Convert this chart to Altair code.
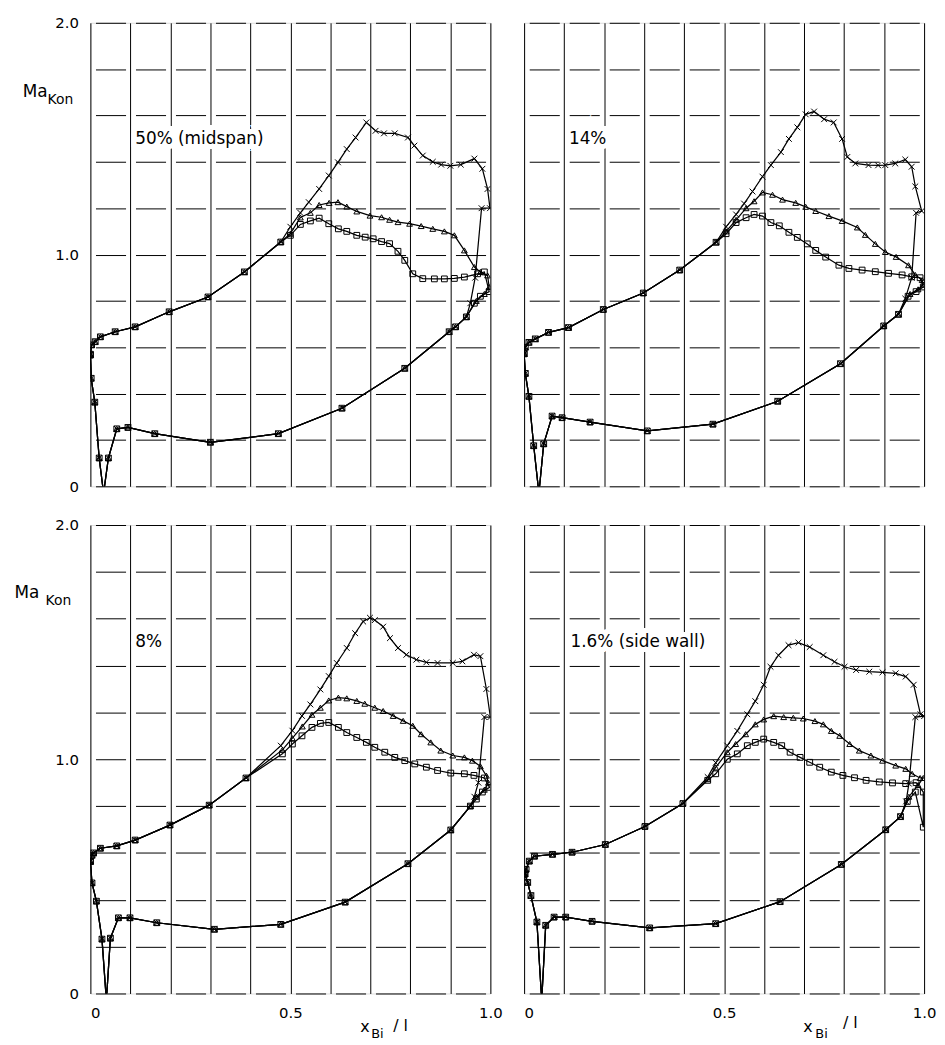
import altair as alt
import pandas as pd

FONT = "DejaVu Sans"
SERIES = ["x", "t", "s"]
SHAPES = ["M-1,-1L1,1M-1,1L1,-1", "triangle-up", "square"]

# ---------------- Panel A : 50 % (midspan) ----------------
A_LE = [(0.0, 0.57), (0.003, 0.61), (0.012, 0.624), (0.025, 0.645), (0.062, 0.667), (0.112, 0.688),
        (0.197, 0.753), (0.294, 0.817), (0.385, 0.925), (0.476, 1.054)]
A_X = [(0.50, 1.12), (0.525, 1.18), (0.546, 1.226), (0.572, 1.283), (0.596, 1.341), (0.619, 1.398),
       (0.641, 1.455), (0.663, 1.505), (0.69, 1.57), (0.713, 1.534), (0.734, 1.523), (0.761, 1.523),
       (0.794, 1.505), (0.81, 1.47), (0.831, 1.427), (0.856, 1.40), (0.877, 1.388), (0.90, 1.383),
       (0.926, 1.388), (0.96, 1.414), (0.98, 1.37), (0.993, 1.283), (0.999, 1.20)]
A_T = [(0.50, 1.09), (0.525, 1.16), (0.55, 1.18), (0.572, 1.214), (0.597, 1.223), (0.619, 1.226),
       (0.641, 1.207), (0.666, 1.186), (0.699, 1.168), (0.728, 1.161), (0.748, 1.15), (0.769, 1.14),
       (0.798, 1.133), (0.827, 1.123), (0.856, 1.111), (0.885, 1.10), (0.91, 1.083), (0.935, 1.018),
       (0.96, 0.946), (0.975, 0.925), (0.993, 0.91)]
A_S = [(0.50, 1.083), (0.525, 1.13), (0.55, 1.145), (0.572, 1.157), (0.596, 1.133), (0.62, 1.111),
       (0.641, 1.10), (0.666, 1.083), (0.687, 1.075), (0.707, 1.068), (0.728, 1.056), (0.748, 1.047),
       (0.769, 1.014), (0.786, 0.975), (0.806, 0.917), (0.831, 0.896), (0.86, 0.895), (0.885, 0.895),
       (0.91, 0.897), (0.935, 0.903), (0.968, 0.917), (0.985, 0.925)]
A_X_TE = [(0.978, 1.20), (0.962, 0.90), (0.95, 0.79)]
A_T_TE = [(0.997, 0.86), (0.985, 0.83), (0.965, 0.80)]
A_S_TE = [(0.997, 0.84), (0.975, 0.82), (0.96, 0.79)]
A_PS = [(0.94, 0.731), (0.913, 0.688), (0.897, 0.667), (0.786, 0.509), (0.629, 0.337), (0.47, 0.227),
        (0.30, 0.19), (0.161, 0.227), (0.094, 0.254), (0.066, 0.248), (0.045, 0.122), (0.033, -0.03),
        (0.022, 0.122), (0.011, 0.363), (0.002, 0.466), (0.0, 0.566)]

# ---------------- Panel B : 14 % ----------------
B_LE = [(0.0, 0.572), (0.003, 0.60), (0.012, 0.621), (0.028, 0.636), (0.061, 0.664), (0.111, 0.685),
        (0.198, 0.763), (0.298, 0.834), (0.389, 0.933), (0.48, 1.053)]
B_X = [(0.505, 1.12), (0.53, 1.173), (0.55, 1.22), (0.571, 1.272), (0.596, 1.336), (0.617, 1.386),
       (0.642, 1.442), (0.662, 1.499), (0.683, 1.549), (0.704, 1.605), (0.725, 1.617), (0.75, 1.584),
       (0.774, 1.57), (0.795, 1.499), (0.808, 1.421), (0.828, 1.393), (0.861, 1.386), (0.885, 1.385),
       (0.903, 1.386), (0.928, 1.393), (0.953, 1.41), (0.969, 1.379), (0.978, 1.294), (0.994, 1.188)]
B_T = [(0.505, 1.10), (0.53, 1.15), (0.555, 1.20), (0.575, 1.23), (0.596, 1.268), (0.621, 1.258),
       (0.646, 1.237), (0.679, 1.223), (0.704, 1.206), (0.729, 1.188), (0.762, 1.166), (0.795, 1.145),
       (0.833, 1.117), (0.853, 1.085), (0.878, 1.046), (0.903, 1.011), (0.93, 0.99), (0.961, 0.954),
       (0.978, 0.912), (0.995, 0.89)]
B_S = [(0.505, 1.09), (0.53, 1.138), (0.555, 1.159), (0.575, 1.173), (0.596, 1.166), (0.617, 1.138),
       (0.638, 1.124), (0.662, 1.096), (0.683, 1.074), (0.708, 1.046), (0.729, 1.018), (0.754, 0.989),
       (0.787, 0.954), (0.812, 0.94), (0.845, 0.933), (0.878, 0.926), (0.911, 0.919), (0.945, 0.912),
       (0.969, 0.904), (0.99, 0.90)]
B_X_TE = [(0.98, 1.18), (0.969, 0.90), (0.953, 0.81)]
B_T_TE = [(0.998, 0.87), (0.985, 0.85), (0.965, 0.83)]
B_S_TE = [(0.998, 0.86), (0.98, 0.84), (0.96, 0.82)]
B_PS = [(0.936, 0.742), (0.899, 0.692), (0.791, 0.529), (0.634, 0.367), (0.472, 0.268), (0.308, 0.239),
        (0.165, 0.277), (0.095, 0.296), (0.07, 0.303), (0.049, 0.183), (0.037, -0.03), (0.024, 0.175),
        (0.012, 0.388), (0.003, 0.487), (0.0, 0.572)]

# ---------------- Panel C : 8 % ----------------
C_LE = [(0.0, 0.564), (0.004, 0.59), (0.008, 0.60), (0.025, 0.62), (0.066, 0.63), (0.112, 0.655),
        (0.199, 0.719), (0.297, 0.804), (0.389, 0.92)]
C_X = [(0.476, 1.058), (0.505, 1.122), (0.529, 1.185), (0.55, 1.234), (0.575, 1.298), (0.596, 1.355),
       (0.616, 1.411), (0.641, 1.475), (0.662, 1.538), (0.682, 1.588), (0.699, 1.604), (0.711, 1.594),
       (0.732, 1.566), (0.749, 1.517), (0.769, 1.475), (0.79, 1.446), (0.815, 1.425), (0.84, 1.414),
       (0.868, 1.411), (0.906, 1.411), (0.93, 1.418), (0.959, 1.446), (0.975, 1.44), (0.99, 1.30),
       (1.0, 1.18)]
C_T = [(0.48, 1.04), (0.505, 1.09), (0.53, 1.14), (0.554, 1.19), (0.575, 1.22), (0.596, 1.251),
       (0.62, 1.263), (0.641, 1.26), (0.666, 1.249), (0.686, 1.237), (0.711, 1.22), (0.732, 1.206),
       (0.757, 1.185), (0.782, 1.164), (0.806, 1.143), (0.827, 1.107), (0.851, 1.072), (0.876, 1.037),
       (0.906, 1.016), (0.935, 1.008), (0.955, 0.994), (0.975, 0.97), (0.99, 0.93)]
C_S = [(0.48, 1.023), (0.505, 1.065), (0.529, 1.10), (0.554, 1.136), (0.575, 1.153), (0.596, 1.157),
       (0.62, 1.136), (0.641, 1.114), (0.666, 1.093), (0.69, 1.072), (0.711, 1.051), (0.736, 1.03),
       (0.761, 1.008), (0.786, 0.994), (0.811, 0.98), (0.84, 0.966), (0.868, 0.952), (0.901, 0.941),
       (0.935, 0.938), (0.959, 0.931), (0.985, 0.92)]
C_X_TE = [(0.985, 1.18), (0.97, 0.90), (0.96, 0.84)]
C_T_TE = [(0.995, 0.90), (0.985, 0.87), (0.965, 0.84)]
C_S_TE = [(0.998, 0.88), (0.98, 0.86), (0.965, 0.83)]
C_PS = [(0.95, 0.80), (0.901, 0.698), (0.794, 0.554), (0.637, 0.39), (0.476, 0.295), (0.31, 0.274),
        (0.166, 0.302), (0.099, 0.323), (0.07, 0.323), (0.05, 0.236), (0.04, -0.03), (0.029, 0.232),
        (0.015, 0.394), (0.004, 0.472), (0.0, 0.564)]

# ---------------- Panel D : 1.6 % (side wall) ----------------
D_LE = [(0.002, 0.51), (0.005, 0.53), (0.013, 0.565), (0.026, 0.586), (0.071, 0.594), (0.12, 0.603),
        (0.203, 0.636), (0.302, 0.713), (0.397, 0.811)]
D_X = [(0.459, 0.924), (0.479, 0.985), (0.508, 1.058), (0.533, 1.121), (0.558, 1.192), (0.578, 1.248),
       (0.599, 1.318), (0.616, 1.395), (0.636, 1.444), (0.661, 1.487), (0.686, 1.498), (0.714, 1.479),
       (0.748, 1.444), (0.776, 1.416), (0.801, 1.395), (0.83, 1.381), (0.863, 1.374), (0.896, 1.371),
       (0.929, 1.367), (0.954, 1.353), (0.974, 1.318), (0.991, 1.192), (1.0, 1.184)]
D_T = [(0.459, 0.915), (0.479, 0.965), (0.508, 1.03), (0.529, 1.065), (0.554, 1.107), (0.578, 1.149),
       (0.599, 1.17), (0.624, 1.184), (0.649, 1.18), (0.673, 1.177), (0.698, 1.174), (0.727, 1.163),
       (0.748, 1.149), (0.768, 1.121), (0.789, 1.10), (0.814, 1.065), (0.838, 1.037), (0.867, 1.016),
       (0.896, 0.994), (0.929, 0.973), (0.954, 0.959), (0.97, 0.938), (0.99, 0.92)]
D_S = [(0.459, 0.91), (0.479, 0.938), (0.508, 1.0), (0.533, 1.023), (0.558, 1.058), (0.578, 1.072),
       (0.599, 1.086), (0.624, 1.072), (0.644, 1.058), (0.665, 1.03), (0.69, 1.008), (0.714, 0.987),
       (0.739, 0.966), (0.768, 0.945), (0.797, 0.931), (0.826, 0.921), (0.855, 0.91), (0.888, 0.903),
       (0.921, 0.899), (0.954, 0.896), (0.98, 0.90)]
D_X_TE = [(0.978, 1.18), (0.962, 0.896), (0.955, 0.82)]
D_T_TE = [(0.998, 0.92), (0.985, 0.89), (0.962, 0.84)]
D_S_TE = [(0.998, 0.86), (0.998, 0.71), (0.978, 0.86), (0.958, 0.82)]
D_PS = [(0.941, 0.755), (0.904, 0.699), (0.793, 0.551), (0.64, 0.392), (0.479, 0.298), (0.314, 0.28),
        (0.17, 0.308), (0.104, 0.326), (0.075, 0.326), (0.054, 0.291), (0.044, -0.03), (0.032, 0.305),
        (0.017, 0.418), (0.009, 0.474), (0.002, 0.51)]

# ---------------- annotation texts ----------------
PANEL_LABELS = {"A": "50% (midspan)", "B": "14%", "C": "8%", "D": "1.6% (side wall)"}
PANEL_LABEL_POS = {"A": (0.112, 1.5), "B": (0.112, 1.5), "C": (0.112, 1.5), "D": (0.116, 1.5)}
MA_POS = {"A": [(-0.169, 1.70), (-0.107, 1.665)], "C": [(-0.19, 1.708), (-0.112, 1.675)]}
XT_POS = {"C": [(0.675, -0.145), (0.702, -0.172), (0.757, -0.138)],
          "D": [(0.698, -0.145), (0.728, -0.172), (0.797, -0.125)]}

PANELS = {
    "A": dict(le=A_LE, tails=[A_X, A_T, A_S], tes=[A_X_TE, A_T_TE, A_S_TE], ps=A_PS),
    "B": dict(le=B_LE, tails=[B_X, B_T, B_S], tes=[B_X_TE, B_T_TE, B_S_TE], ps=B_PS),
    "C": dict(le=C_LE, tails=[C_X, C_T, C_S], tes=[C_X_TE, C_T_TE, C_S_TE], ps=C_PS),
    "D": dict(le=D_LE, tails=[D_X, D_T, D_S], tes=[D_X_TE, D_T_TE, D_S_TE], ps=D_PS),
}

rows = []
for key, p in PANELS.items():
    for s, tail, te in zip(SERIES, p["tails"], p["tes"]):
        pts = p["le"] + tail + te + p["ps"]
        for i, (x, y) in enumerate(pts):
            rows.append(dict(panel=key, series=s, idx=i, x=x, y=y))
df = pd.DataFrame(rows)

XV = [round(i * 0.1, 1) for i in range(11)]
YV = [round(i * 0.1, 1) for i in range(21)]


def make_panel(key, show_x, show_y, h):
    d = df[df.panel == key]
    xaxis_kw = dict(values=XV, grid=True, gridColor="black", gridWidth=1, gridOpacity=1,
                    domain=False, ticks=False, labels=show_x, labelOverlap=False)
    if show_x:
        xaxis_kw.update(labelExpr="datum.value == 0 ? '0' : (datum.value == 0.5 ? '0.5' : (datum.value == 1 ? '1.0' : ''))",
                        labelFont=FONT, labelFontSize=15, labelColor="black", labelPadding=12,
                        labelAlign={"condition": {"test": "datum.value == 0", "value": "left"}, "value": "center"})
    yaxis_kw = dict(values=YV, grid=True, gridColor="black", gridWidth=1, gridOpacity=1,
                    gridDash=[30.3, 10], gridDashOffset=35.15,
                    domain=False, ticks=False, labels=show_y, labelOverlap=False)
    if show_y:
        yaxis_kw.update(labelExpr="datum.value == 0 ? '0' : (datum.value == 1 ? '1.0' : (datum.value == 2 ? '2.0' : ''))",
                        labelFont=FONT, labelFontSize=15, labelColor="black", labelPadding=12)
    xenc = alt.X("x:Q", scale=alt.Scale(domain=[0, 1], nice=False, zero=False),
                 axis=alt.Axis(**xaxis_kw), title=None)
    yenc = alt.Y("y:Q", scale=alt.Scale(domain=[0, 2], nice=False, zero=False),
                 axis=alt.Axis(**yaxis_kw), title=None)

    lines = alt.Chart(d).mark_line(color="black", strokeWidth=1.25, clip=True).encode(
        x=xenc, y=yenc, detail="series:N", order="idx:Q")
    points = alt.Chart(d).mark_point(size=34, color="black", strokeWidth=1, filled=False,
                                     opacity=1, clip=True).encode(
        x=xenc, y=yenc,
        shape=alt.Shape("series:N", scale=alt.Scale(domain=SERIES, range=SHAPES), legend=None))

    lx, ly = PANEL_LABEL_POS[key]
    lab_df = pd.DataFrame({"x": [lx], "y": [ly], "t": [PANEL_LABELS[key]]})
    halo = alt.Chart(lab_df).mark_text(align="left", baseline="middle", font=FONT, fontSize=17,
                                       stroke="white", strokeWidth=10, fill="white").encode(
        x="x:Q", y="y:Q", text="t:N")
    lab = alt.Chart(lab_df).mark_text(align="left", baseline="middle", font=FONT, fontSize=17,
                                      color="black").encode(x="x:Q", y="y:Q", text="t:N")
    layers = [lines, points, halo, lab]

    if key in MA_POS:
        (mx, my), (kx, ky) = MA_POS[key]
        ma_df = pd.DataFrame({"x": [mx], "y": [my], "t": ["Ma"]})
        kon_df = pd.DataFrame({"x": [kx], "y": [ky], "t": ["Kon"]})
        layers.append(alt.Chart(ma_df).mark_text(align="left", baseline="middle", font=FONT, fontSize=17,
                                                 color="black").encode(x="x:Q", y="y:Q", text="t:N"))
        layers.append(alt.Chart(kon_df).mark_text(align="left", baseline="middle", font=FONT, fontSize=14,
                                                  color="black").encode(x="x:Q", y="y:Q", text="t:N"))
    if key in XT_POS:
        (ax, ay), (bx, by), (cx, cy) = XT_POS[key]
        for (tx, ty, tt, fs) in [(ax, ay, "x", 16), (bx, by, "Bi", 13), (cx, cy, "/ l", 16)]:
            tdf = pd.DataFrame({"x": [tx], "y": [ty], "t": [tt]})
            layers.append(alt.Chart(tdf).mark_text(align="left", baseline="middle", font=FONT,
                                                   fontSize=fs, color="black").encode(
                x="x:Q", y="y:Q", text="t:N"))

    return alt.layer(*layers).properties(width=403, height=h)


pA = make_panel("A", False, True, 467)
pB = make_panel("B", False, False, 467)
pC = make_panel("C", True, True, 472)
pD = make_panel("D", True, False, 472)

chart = alt.concat(pA, pB, pC, pD, columns=2, spacing={"row": 39, "column": 34}, bounds="flush").properties(
    padding={"left": 5, "top": 3, "right": 0, "bottom": 0}
).configure_view(stroke="black", strokeWidth=1.2).configure(font=FONT)

chart.save("out.html", embed_options={"renderer": "svg", "actions": False})
